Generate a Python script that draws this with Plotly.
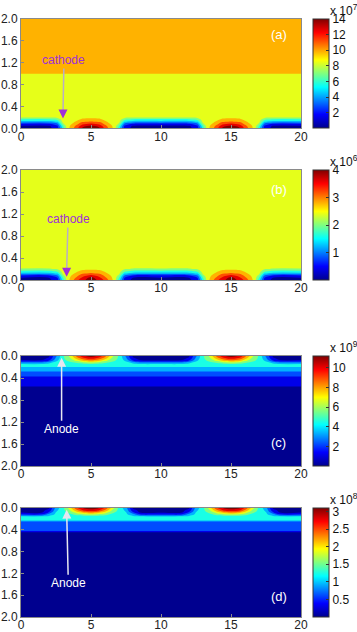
import plotly.graph_objects as go

# grid columns (x, mm) used by panels (a) and (b)
X_AB = [0, 2.0, 2.6, 3.0, 3.3, 3.6, 4.0, 4.4, 5.0, 5.6, 6.0, 6.4, 6.7, 7.0, 7.4, 8.0,
        10, 12.0, 12.6, 13.0, 13.3, 13.6, 14.0, 14.4, 15.0, 15.6, 16.0, 16.4, 16.7, 17.0, 17.4, 18.0, 20]
# grid columns (x, mm) used by panels (c) and (d)
X_CD = [0, 1.5, 2.0, 2.5, 3.0, 3.5, 4.0, 4.5, 5.0, 5.5, 6.0, 6.5, 7.0, 7.5, 8.0, 8.5,
        10, 11.5, 12.0, 12.5, 13.0, 13.5, 14.0, 14.5, 15.0, 15.6, 16.0, 16.5, 17.0, 17.5, 18.0, 18.5, 20]

# (a) cathode, x10^7 -- rows near the surface, then uniform deeper layers
A_SURF_Y = [0, 0.04, 0.08, 0.12, 0.16, 0.2]
A_SURF_Z = [
    [0.3, 0.3, 1.5, 5.5, 8.4, 9.8, 11.5, 13.6, 14.0, 13.6, 11.5, 9.8, 8.4, 5.5, 1.5, 0.3, 0.2, 0.3, 1.5, 5.5, 8.4, 9.8, 11.5, 13.6, 14.0, 13.6, 11.5, 9.8, 8.4, 5.5, 1.5, 0.3, 0.3],
    [0.5, 0.5, 1.8, 6.2, 8.4, 9.5, 11.0, 12.8, 13.8, 12.8, 11.0, 9.5, 8.4, 6.2, 1.8, 0.5, 0.4, 0.5, 1.8, 6.2, 8.4, 9.5, 11.0, 12.8, 13.8, 12.8, 11.0, 9.5, 8.4, 6.2, 1.8, 0.5, 0.5],
    [1.8, 1.8, 3.0, 7.5, 8.4, 9.0, 10.2, 11.6, 12.3, 11.6, 10.2, 9.0, 8.4, 7.5, 3.0, 1.8, 1.6, 1.8, 3.0, 7.5, 8.4, 9.0, 10.2, 11.6, 12.3, 11.6, 10.2, 9.0, 8.4, 7.5, 3.0, 1.8, 1.8],
    [4.4, 4.4, 5.0, 8.2, 8.4, 8.6, 9.4, 10.3, 10.6, 10.3, 9.4, 8.6, 8.4, 8.2, 5.0, 4.4, 4.3, 4.4, 5.0, 8.2, 8.4, 8.6, 9.4, 10.3, 10.6, 10.3, 9.4, 8.6, 8.4, 8.2, 5.0, 4.4, 4.4],
    [6.0, 6.0, 6.6, 8.4, 8.4, 8.4, 8.8, 9.4, 9.6, 9.4, 8.8, 8.4, 8.4, 8.4, 6.6, 6.0, 5.9, 6.0, 6.6, 8.4, 8.4, 8.4, 8.8, 9.4, 9.6, 9.4, 8.8, 8.4, 8.4, 8.4, 6.6, 6.0, 6.0],
    [7.9, 7.9, 8.1, 8.4, 8.4, 8.4, 8.5, 8.7, 8.8, 8.7, 8.5, 8.4, 8.4, 8.4, 8.1, 7.9, 7.9, 7.9, 8.1, 8.4, 8.4, 8.4, 8.5, 8.7, 8.8, 8.7, 8.5, 8.4, 8.4, 8.4, 8.1, 7.9, 7.9],
]
A_LAYER_Y = [0.25, 0.99, 1.01, 2.0]
A_LAYER_Z = [8.4, 8.4, 9.8, 9.8]

# (b) cathode, x10^6
B_SURF_Y = [0, 0.04, 0.08, 0.12, 0.16, 0.2]
B_SURF_Z = [
    [0.1, 0.1, 0.45, 1.6, 2.4, 2.8, 3.3, 3.7, 4.0, 3.7, 3.3, 2.8, 2.4, 1.6, 0.45, 0.1, 0.08, 0.1, 0.45, 1.6, 2.4, 2.8, 3.3, 3.7, 4.0, 3.7, 3.3, 2.8, 2.4, 1.6, 0.45, 0.1, 0.1],
    [0.2, 0.2, 0.6, 1.8, 2.4, 2.7, 3.1, 3.5, 3.95, 3.5, 3.1, 2.7, 2.4, 1.8, 0.6, 0.2, 0.18, 0.2, 0.6, 1.8, 2.4, 2.7, 3.1, 3.5, 3.95, 3.5, 3.1, 2.7, 2.4, 1.8, 0.6, 0.2, 0.2],
    [0.55, 0.55, 0.95, 2.1, 2.4, 2.6, 2.9, 3.25, 3.5, 3.25, 2.9, 2.6, 2.4, 2.1, 0.95, 0.55, 0.5, 0.55, 0.95, 2.1, 2.4, 2.6, 2.9, 3.25, 3.5, 3.25, 2.9, 2.6, 2.4, 2.1, 0.95, 0.55, 0.55],
    [1.25, 1.25, 1.45, 2.3, 2.4, 2.5, 2.7, 2.95, 3.05, 2.95, 2.7, 2.5, 2.4, 2.3, 1.45, 1.25, 1.2, 1.25, 1.45, 2.3, 2.4, 2.5, 2.7, 2.95, 3.05, 2.95, 2.7, 2.5, 2.4, 2.3, 1.45, 1.25, 1.25],
    [1.7, 1.7, 1.9, 2.4, 2.4, 2.4, 2.55, 2.7, 2.75, 2.7, 2.55, 2.4, 2.4, 2.4, 1.9, 1.7, 1.7, 1.7, 1.9, 2.4, 2.4, 2.4, 2.55, 2.7, 2.75, 2.7, 2.55, 2.4, 2.4, 2.4, 1.9, 1.7, 1.7],
    [2.15, 2.15, 2.25, 2.4, 2.4, 2.4, 2.45, 2.5, 2.52, 2.5, 2.45, 2.4, 2.4, 2.4, 2.25, 2.15, 2.15, 2.15, 2.25, 2.4, 2.4, 2.4, 2.45, 2.5, 2.52, 2.5, 2.45, 2.4, 2.4, 2.4, 2.25, 2.15, 2.15],
]
B_LAYER_Y = [0.25, 2.0]
B_LAYER_Z = [2.4, 2.4]

# (c) anode, x10^9
C_SURF_Y = [0, 0.04, 0.08, 0.12]
C_SURF_Z = [
    [0.2, 0.2, 0.4, 2.6, 4.8, 6.5, 8.8, 10.5, 11.2, 10.5, 8.8, 6.5, 4.8, 2.6, 0.4, 0.2, 0.15, 0.2, 0.4, 2.6, 4.8, 6.5, 8.8, 10.5, 11.2, 10.5, 8.8, 6.5, 4.8, 2.6, 0.4, 0.2, 0.2],
    [0.3, 0.3, 0.7, 3.0, 4.8, 6.0, 7.8, 9.3, 10.0, 9.3, 7.8, 6.0, 4.8, 3.0, 0.7, 0.3, 0.25, 0.3, 0.7, 3.0, 4.8, 6.0, 7.8, 9.3, 10.0, 9.3, 7.8, 6.0, 4.8, 3.0, 0.7, 0.3, 0.3],
    [0.6, 0.6, 1.6, 3.6, 4.7, 5.4, 6.6, 7.8, 8.3, 7.8, 6.6, 5.4, 4.7, 3.6, 1.6, 0.6, 0.5, 0.6, 1.6, 3.6, 4.7, 5.4, 6.6, 7.8, 8.3, 7.8, 6.6, 5.4, 4.7, 3.6, 1.6, 0.6, 0.6],
    [3.0, 3.0, 3.6, 4.3, 4.6, 4.8, 5.2, 5.8, 6.0, 5.8, 5.2, 4.8, 4.6, 4.3, 3.6, 3.0, 2.9, 3.0, 3.6, 4.3, 4.6, 4.8, 5.2, 5.8, 6.0, 5.8, 5.2, 4.8, 4.6, 4.3, 3.6, 3.0, 3.0],
]
C_LAYER_Y = [0.16, 0.2, 0.25, 0.3, 0.37, 0.45, 0.53, 0.57, 2.0]
C_LAYER_Z = [4.4, 3.9, 3.3, 2.5, 1.7, 1.2, 1.0, 0.3, 0.3]

# (d) anode, x10^8
D_SURF_Y = [0, 0.04, 0.08, 0.12]
D_SURF_Z = [
    [0.05, 0.05, 0.1, 0.9, 1.3, 1.9, 2.6, 3.0, 3.1, 3.0, 2.6, 1.9, 1.3, 0.9, 0.1, 0.05, 0.04, 0.05, 0.1, 0.9, 1.3, 1.9, 2.6, 3.0, 3.1, 3.0, 2.6, 1.9, 1.3, 0.9, 0.1, 0.05, 0.05],
    [0.08, 0.08, 0.25, 1.0, 1.3, 1.7, 2.3, 2.7, 2.85, 2.7, 2.3, 1.7, 1.3, 1.0, 0.25, 0.08, 0.07, 0.08, 0.25, 1.0, 1.3, 1.7, 2.3, 2.7, 2.85, 2.7, 2.3, 1.7, 1.3, 1.0, 0.25, 0.08, 0.08],
    [0.12, 0.12, 0.5, 1.1, 1.25, 1.5, 1.9, 2.2, 2.35, 2.2, 1.9, 1.5, 1.25, 1.1, 0.5, 0.12, 0.1, 0.12, 0.5, 1.1, 1.25, 1.5, 1.9, 2.2, 2.35, 2.2, 1.9, 1.5, 1.25, 1.1, 0.5, 0.12, 0.12],
    [0.5, 0.5, 0.9, 1.15, 1.2, 1.3, 1.5, 1.6, 1.7, 1.6, 1.5, 1.3, 1.2, 1.15, 0.9, 0.5, 0.45, 0.5, 0.9, 1.15, 1.2, 1.3, 1.5, 1.6, 1.7, 1.6, 1.5, 1.3, 1.2, 1.15, 0.9, 0.5, 0.5],
]
D_LAYER_Y = [0.16, 0.22, 0.26, 0.41, 0.45, 2.0]
D_LAYER_Z = [1.2, 1.2, 0.62, 0.62, 0.1, 0.1]

# colour bar ranges / ticks / exponent
CBAR_MAX = [14, 4, 11.2, 3.1]
CBAR_TICKS = [[2, 4, 6, 8, 10, 12, 14], [1, 2, 3, 4], [2, 4, 6, 8, 10], [0.5, 1, 1.5, 2, 2.5, 3]]
CBAR_TEXT = [["2", "4", "6", "8", "10", "12", "14"], ["1", "2", "3", "4"],
             ["2", "4", "6", "8", "10"], ["0.5", "1", "1.5", "2", "2.5", "3"]]
EXPONENTS = [7, 6, 9, 8]
PANEL_LABELS = ["(a)", "(b)", "(c)", "(d)"]

W, H = 357, 632
FONT = "Liberation Sans, Arial, sans-serif"
JET = [[0, "rgb(0,0,143)"], [0.125, "rgb(0,0,255)"], [0.375, "rgb(0,255,255)"],
       [0.625, "rgb(255,255,0)"], [0.875, "rgb(255,0,0)"], [1, "rgb(128,0,0)"]]

# pixel boxes (top, bottom) of each panel
PANEL_PX = [(19, 128.3), (170, 280), (356, 466), (508, 617)]
X_DOM = [21 / W, 301 / W]


def build_grid(surf_y, surf_z, layer_y, layer_z, ncols):
    ys = list(surf_y) + list(layer_y)
    zs = [list(r) for r in surf_z] + [[v] * ncols for v in layer_z]
    return ys, zs


panels = [
    (X_AB, *build_grid(A_SURF_Y, A_SURF_Z, A_LAYER_Y, A_LAYER_Z, len(X_AB))),
    (X_AB, *build_grid(B_SURF_Y, B_SURF_Z, B_LAYER_Y, B_LAYER_Z, len(X_AB))),
    (X_CD, *build_grid(C_SURF_Y, C_SURF_Z, C_LAYER_Y, C_LAYER_Z, len(X_CD))),
    (X_CD, *build_grid(D_SURF_Y, D_SURF_Z, D_LAYER_Y, D_LAYER_Z, len(X_CD))),
]

fig = go.Figure()
layout = {}
annotations = []

for i, (xs, ys, zs) in enumerate(panels):
    n = i + 1
    xa = "x" if n == 1 else f"x{n}"
    ya = "y" if n == 1 else f"y{n}"
    top, bot = PANEL_PX[i]
    ydom = [1 - bot / H, 1 - top / H]
    zmax = CBAR_MAX[i]
    step = zmax / 10

    fig.add_trace(go.Contour(
        x=xs, y=ys, z=zs, xaxis=xa, yaxis=ya,
        colorscale=JET, showscale=False,
        contours=dict(coloring="fill", start=step / 2, end=step / 2 + 9 * step, size=step, showlines=False),
        line=dict(width=0, smoothing=1.0),
        hoverinfo="skip",
    ))
    # continuous jet colour bar like the original figure
    fig.add_trace(go.Scatter(
        x=[None, None], y=[None, None], xaxis=xa, yaxis=ya, mode="markers",
        showlegend=False, hoverinfo="skip",
        marker=dict(color=[0, zmax], cmin=0, cmax=zmax, colorscale=JET, showscale=True,
                    colorbar=dict(x=313 / W, xanchor="left", xpad=0, ypad=0,
                                  y=(ydom[0] + ydom[1]) / 2, yanchor="middle",
                                  len=(bot - top) / H, lenmode="fraction", thickness=16,
                                  outlinecolor="#333", outlinewidth=1,
                                  tickvals=CBAR_TICKS[i], ticktext=CBAR_TEXT[i],
                                  ticks="inside", ticklen=3, tickcolor="#333",
                                  tickfont=dict(family=FONT, size=12, color="#111"))),
    ))

    axis_common = dict(showline=True, mirror=True, linecolor="#8a8a8a", linewidth=1,
                       ticks="inside", ticklen=3, tickcolor="#8a8a8a", showgrid=False,
                       zeroline=False, automargin=False,
                       tickfont=dict(family=FONT, size=12, color="#222"))
    layout["xaxis" if n == 1 else f"xaxis{n}"] = dict(
        domain=X_DOM, anchor=ya, range=[0, 20], tickvals=[0, 5, 10, 15, 20],
        ticklabelstandoff=-3, **axis_common)
    yr = [0, 2] if i < 2 else [2, 0]
    layout["yaxis" if n == 1 else f"yaxis{n}"] = dict(
        domain=ydom, anchor=xa, range=yr, tickvals=[0, 0.4, 0.8, 1.2, 1.6, 2.0],
        tickformat=".1f", **axis_common)

    annotations.append(dict(xref="paper", yref="paper", x=328 / W, y=1 - (top - 9) / H,
                            xanchor="left", yanchor="middle", showarrow=False,
                            text=f"x 10<sup>{EXPONENTS[i]}</sup>",
                            font=dict(family=FONT, size=12, color="#111")))
    label_y = [1.71, 1.65, 1.58, 1.63][i]
    annotations.append(dict(xref=xa, yref=ya, x=18.4, y=label_y, showarrow=False,
                            text=PANEL_LABELS[i], font=dict(family=FONT, size=13, color="white")))

# electrode annotations
PURPLE = "#a030d8"
for xa, ya, tx, ty, hx, hy in [("x", "y", 3.07, 1.25, 3.0, 0.18), ("x2", "y2", 3.36, 1.11, 3.26, 0.06)]:
    annotations.append(dict(xref=xa, yref=ya, axref=xa, ayref=ya, x=hx, y=hy + 0.1, ax=tx, ay=ty,
                            text="cathode", showarrow=True, arrowhead=0, arrowwidth=1.5,
                            arrowcolor="#b9aec6", font=dict(family=FONT, size=12, color=PURPLE)))
    annotations.append(dict(xref=xa, yref=ya, axref=xa, ayref=ya, x=hx, y=hy, ax=hx, ay=hy + 0.12,
                            text="", showarrow=True, arrowhead=2, arrowsize=1.2, arrowwidth=1.5,
                            arrowcolor=PURPLE))
for xa, ya, tx, ty, hx, hy in [("x3", "y3", 2.9, 1.33, 2.9, 0.03), ("x4", "y4", 3.38, 1.38, 3.26, 0.03)]:
    annotations.append(dict(xref=xa, yref=ya, axref=xa, ayref=ya, x=hx, y=hy, ax=tx, ay=ty,
                            text="Anode", showarrow=True, arrowhead=2, arrowsize=1.2, arrowwidth=1.5,
                            arrowcolor="#e6e6f0", font=dict(family=FONT, size=12, color="white")))

fig.update_layout(
    width=W, height=H, margin=dict(l=0, r=0, t=0, b=0, autoexpand=False),
    paper_bgcolor="white", plot_bgcolor="white", showlegend=False,
    annotations=annotations, **layout,
)
# drop the browser's default body margin so the figure sits at the page corner
fig.write_html("out.html", config={"displayModeBar": False},
               post_script="document.body.style.margin='0';")
